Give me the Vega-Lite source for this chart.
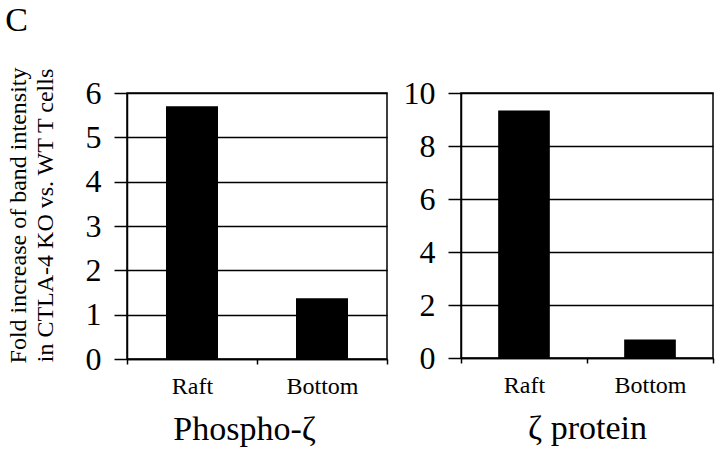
{
  "$schema": "https://vega.github.io/schema/vega-lite/v6.json",
  "padding": {"left": 5, "top": 4, "right": 5, "bottom": 5},
  "background": "white",
  "title": {"text": "C", "anchor": "start", "frame": "bounds", "fontSize": 34, "font": "Liberation Serif", "fontWeight": "normal", "color": "black", "offset": 28},
  "config": {
    "font": "Liberation Serif",
    "view": {"stroke": "black", "strokeWidth": 1.5},
    "axis": {
      "domainColor": "black", "tickColor": "black", "gridColor": "black",
      "labelColor": "black", "titleColor": "black",
      "labelFont": "Liberation Serif", "titleFont": "Liberation Serif",
      "titleFontWeight": "normal", "domainWidth": 1.5, "tickWidth": 1.5, "gridWidth": 1.5
    }
  },
  "spacing": 13,
  "hconcat": [
    {
      "width": 260,
      "height": 266,
      "data": {"values": [{"fraction": "Raft", "fold": 5.70}, {"fraction": "Bottom", "fold": 1.37}]},
      "mark": {"type": "bar", "color": "black", "width": {"band": 0.4}},
      "encoding": {
        "x": {
          "field": "fraction", "type": "nominal", "sort": ["Raft", "Bottom"],
          "scale": {"paddingInner": 0, "paddingOuter": 0},
          "axis": {"title": "Phospho-ζ", "labelAngle": 0, "labelFontSize": 24, "titleFontSize": 34,
                   "tickBand": "extent", "tickSize": 5, "labelPadding": 10, "titlePadding": 14, "grid": false, "titleX": 117}
        },
        "y": {
          "field": "fold", "type": "quantitative",
          "scale": {"domain": [0, 6], "nice": false},
          "axis": {"values": [0, 1, 2, 3, 4, 5, 6], "title": ["Fold increase of band intensity", "in CTLA-4 KO vs. WT T cells"],
                   "titleFontSize": 24, "titleLineHeight": 27, "labelFontSize": 32, "tickSize": 13, "labelPadding": 13,
                   "titlePadding": 28, "titleY": 122, "grid": true}
        }
      }
    },
    {
      "width": 252,
      "height": 265,
      "data": {"values": [{"fraction": "Raft", "fold": 9.34}, {"fraction": "Bottom", "fold": 0.70}]},
      "mark": {"type": "bar", "color": "black", "width": {"band": 0.41}},
      "encoding": {
        "x": {
          "field": "fraction", "type": "nominal", "sort": ["Raft", "Bottom"],
          "scale": {"paddingInner": 0, "paddingOuter": 0},
          "axis": {"title": "ζ protein", "labelAngle": 0, "labelFontSize": 24, "titleFontSize": 34,
                   "tickBand": "extent", "tickSize": 5, "labelPadding": 10, "titlePadding": 14, "grid": false}
        },
        "y": {
          "field": "fold", "type": "quantitative",
          "scale": {"domain": [0, 10], "nice": false},
          "axis": {"values": [0, 2, 4, 6, 8, 10], "title": null,
                   "labelFontSize": 32, "tickSize": 13, "labelPadding": 13, "grid": true}
        }
      }
    }
  ]
}
